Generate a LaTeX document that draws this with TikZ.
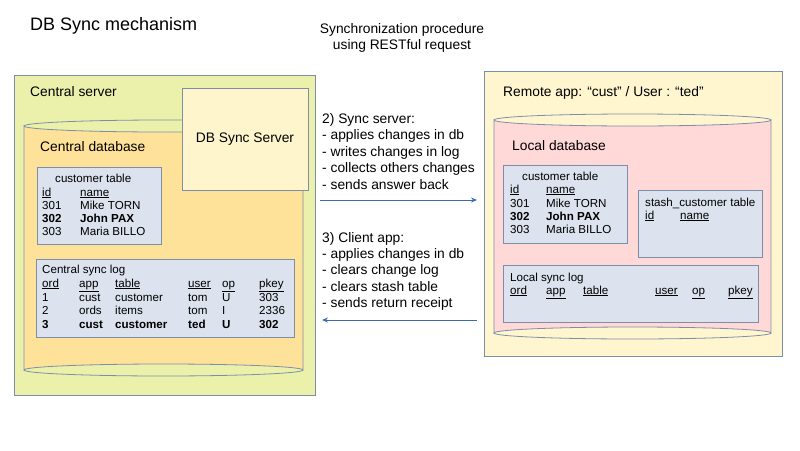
\documentclass[tikz,border=0pt]{standalone}
\usepackage{fontspec}
\setmainfont{Liberation Sans}
\usetikzlibrary{arrows.meta}
\definecolor{srvgreen}{HTML}{EBF1AA}
\definecolor{dborange}{HTML}{FFE29A}
\definecolor{syncbox}{HTML}{FFF5CC}
\definecolor{tblblue}{HTML}{DCE3EE}
\definecolor{appyellow}{HTML}{FFF6D0}
\definecolor{dbpink}{HTML}{FFD8D8}
\definecolor{edge}{HTML}{7D8FA8}
\definecolor{arrowblue}{HTML}{3D6AAB}
\newcommand{\ul}[1]{\underline{#1}}
\begin{document}
\begin{tikzpicture}[x=1pt, y=-1pt,
    box/.style={draw=edge, line width=0.8pt},
    txt/.style={anchor=base west, inner sep=0pt, font=\fontsize{13.8}{16}\selectfont},
    tbl/.style={anchor=base west, inner sep=0pt, font=\fontsize{11.6}{13}\selectfont},
    flow/.style={draw=arrowblue, line width=0.8pt, -{Stealth[length=6pt,width=5pt]}}]
    \useasboundingbox (0,0) rectangle (800,450);
    % titles
    \node[anchor=base west, inner sep=0pt, font=\fontsize{18}{20}\selectfont] (title) at (30,30) {DB Sync mechanism};
    \node[align=center, inner sep=0pt, font=\fontsize{13.8}{16.5}\selectfont] (proc) at (402,38) {Synchronization procedure\\using RESTful request};
    % central server
    \draw[box, fill=srvgreen] (14,75) rectangle (315,395);
    \node[txt] (srv) at (30,96) {Central server};
    \draw[box, fill=dborange] (24,126) -- (24,370) arc[start angle=180, end angle=360, x radius=139.5, y radius=6]
        -- (303,126) arc[start angle=0, end angle=180, x radius=139.5, y radius=6] -- cycle;
    \draw[box] (24,126) arc[start angle=180, end angle=360, x radius=139.5, y radius=6];
    \draw[box] (24,370) arc[start angle=180, end angle=0, x radius=139.5, y radius=6];
    \node[txt] (cdb) at (40,151) {Central database};
    \draw[box, fill=syncbox] (182,88) rectangle (308,190);
    \node[txt, anchor=center] (dbsync) at (245,139) {DB Sync Server};
    \draw[box, fill=tblblue] (37,167) rectangle (161,244);
    \node[tbl] (ctbl) at (55,182) {customer table};
    \node[tbl] (cid) at (42,196) {\ul{id}};
    \node[tbl] (cname) at (80,196) {\ul{name}};
    \node[tbl] (c1) at (42,209) {301};
    \node[tbl] (c1n) at (80,209) {Mike TORN};
    \node[tbl] (c2) at (42,222) {\textbf{302}};
    \node[tbl] (c2n) at (80,222) {\textbf{John PAX}};
    \node[tbl] (c3) at (42,235) {303};
    \node[tbl] (c3n) at (80,235) {Maria BILLO};
    \draw[box, fill=tblblue] (36,259) rectangle (294,337);
    \node[tbl] (clog) at (42,273) {Central sync log};
    \foreach \x/\t [count=\i] in {42/ord,79/app,115/table,188/user,222/op,259/pkey}
        \node[tbl] (ch\i) at (\x,287) {\ul{\t}};
    \foreach \x/\t [count=\i] in {42/1,79/cust,115/customer,188/tom,222/U,259/303}
        \node[tbl] (ca\i) at (\x,301) {\t};
    \foreach \x/\t [count=\i] in {42/2,79/ords,115/items,188/tom,222/I,259/2336}
        \node[tbl] (cb\i) at (\x,314) {\t};
    \foreach \x/\t [count=\i] in {42/3,79/cust,115/customer,188/ted,222/U,259/302}
        \node[tbl] (cc\i) at (\x,328) {\textbf{\t}};
    % remote app
    \draw[box, fill=appyellow] (484,71) rectangle (782,356);
    \node[txt] (app) at (503,96) {Remote app: “cust” / User : “ted”};
    \draw[box, fill=dbpink] (494,120) -- (494,333) arc[start angle=180, end angle=360, x radius=138.5, y radius=6]
        -- (771,120) arc[start angle=0, end angle=180, x radius=138.5, y radius=6] -- cycle;
    \draw[box] (494,120) arc[start angle=180, end angle=360, x radius=138.5, y radius=6];
    \draw[box] (494,333) arc[start angle=180, end angle=0, x radius=138.5, y radius=6];
    \node[txt] (ldb) at (512,150) {Local database};
    \draw[box, fill=tblblue] (503,165) rectangle (627,243);
    \node[tbl] (ltbl) at (522,180) {customer table};
    \node[tbl] (lid) at (510,193) {\ul{id}};
    \node[tbl] (lname) at (546,193) {\ul{name}};
    \node[tbl] (l1) at (510,207) {301};
    \node[tbl] (l1n) at (546,207) {Mike TORN};
    \node[tbl] (l2) at (510,220) {\textbf{302}};
    \node[tbl] (l2n) at (546,220) {\textbf{John PAX}};
    \node[tbl] (l3) at (510,233) {303};
    \node[tbl] (l3n) at (546,233) {Maria BILLO};
    \draw[box, fill=tblblue] (638,190) rectangle (762,257);
    \node[tbl] (stash) at (645,206) {stash\_customer table};
    \node[tbl] (sid) at (645,219) {\ul{id}};
    \node[tbl] (sname) at (680,219) {\ul{name}};
    \draw[box, fill=tblblue] (503,265) rectangle (758,322);
    \node[tbl] (llog) at (510,281) {Local sync log};
    \foreach \x/\t [count=\i] in {510/ord,546/app,583/table,655/user,692/op,728/pkey}
        \node[tbl] (lh\i) at (\x,294) {\ul{\t}};
    % steps
    \node[anchor=north west, inner sep=0pt, align=left, font=\fontsize{13.8}{16.5}\selectfont] (step2) at (322,113)
        {2) Sync server:\\- applies changes in db\\- writes changes in log\\- collects others changes\\- sends answer back};
    \node[anchor=north west, inner sep=0pt, align=left, font=\fontsize{13.8}{16.3}\selectfont] (step3) at (322,232)
        {3) Client app:\\- applies changes in db\\- clears change log\\- clears stash table\\- sends return receipt};
    \coordinate (a1) at (320,200);
    \coordinate (b1) at (477,200);
    \coordinate (a2) at (477,320);
    \coordinate (b2) at (322,320);
    \draw[flow] (a1) -- (b1);
    \draw[flow] (a2) -- (b2);
\end{tikzpicture}
\end{document}
